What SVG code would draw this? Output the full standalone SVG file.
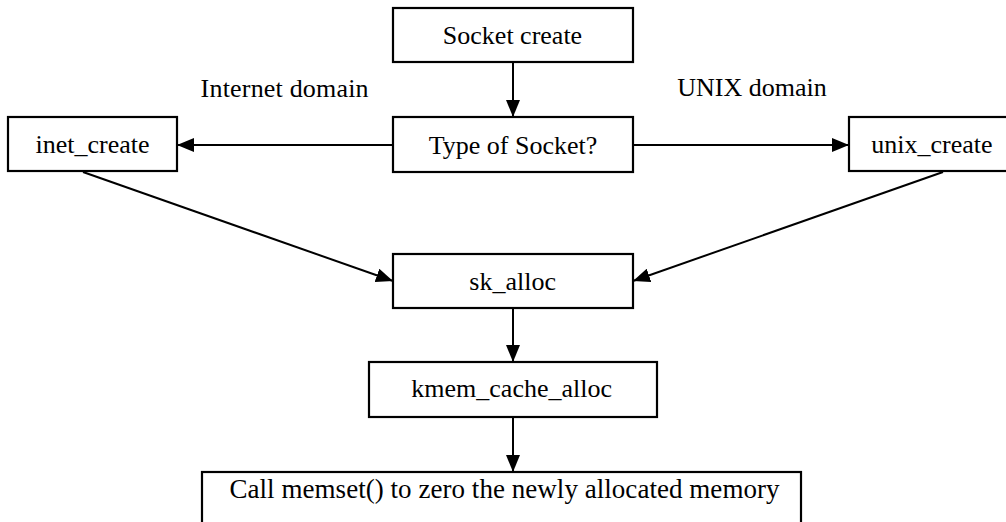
<svg xmlns="http://www.w3.org/2000/svg" width="1006" height="522" viewBox="0 0 1006 522">
  <style>
    .box { fill: #ffffff; stroke: #000000; stroke-width: 2.2; }
    .lbl { font-family: 'Liberation Serif', 'Times New Roman', Times, serif; font-size: 26px; fill: #000000; text-anchor: middle; }
    .edge { fill: none; stroke: #000000; stroke-width: 2; marker-end: url(#arrow); }
  </style>
  <defs>
    <marker id="arrow" markerUnits="userSpaceOnUse" markerWidth="17" markerHeight="14" refX="17" refY="7" orient="auto">
      <path d="M0,0 L17,7 L0,14 z" fill="#000000"/>
    </marker>
  </defs>
  <rect width="1006" height="522" fill="#ffffff"/>

  <!-- connectors -->
  <g id="connectors">
    <line class="edge" x1="513" y1="62" x2="513" y2="117"/>
    <line class="edge" x1="393" y1="145" x2="177" y2="145"/>
    <line class="edge" x1="633" y1="145" x2="849" y2="145"/>
    <line class="edge" x1="83" y1="172" x2="393" y2="281"/>
    <line class="edge" x1="943" y1="172" x2="633" y2="281"/>
    <line class="edge" x1="513" y1="308" x2="513" y2="362"/>
    <line class="edge" x1="513" y1="417" x2="513" y2="472"/>
  </g>

  <!-- branch labels -->
  <g id="labels">
    <text class="lbl" x="284.6" y="96.7" textLength="168">Internet domain</text>
    <text class="lbl" x="752" y="96">UNIX domain</text>
  </g>

  <g id="socket-create">
    <rect class="box" x="393" y="8" width="240" height="54"/>
    <text class="lbl" x="512.5" y="44.3">Socket create</text>
  </g>

  <g id="type-of-socket">
    <rect class="box" x="393" y="117" width="240" height="55"/>
    <text class="lbl" x="513" y="154">Type of Socket?</text>
  </g>

  <g id="inet-create">
    <rect class="box" x="8" y="117" width="169" height="54"/>
    <text class="lbl" x="92.5" y="152.7">inet_create</text>
  </g>

  <g id="unix-create">
    <rect class="box" x="849" y="117" width="170" height="54"/>
    <text class="lbl" x="932" y="152.7">unix_create</text>
  </g>

  <g id="sk-alloc">
    <rect class="box" x="393" y="254" width="240" height="54"/>
    <text class="lbl" x="512.7" y="290">sk_alloc</text>
  </g>

  <g id="kmem-cache-alloc">
    <rect class="box" x="369" y="362" width="288" height="55"/>
    <text class="lbl" x="511.7" y="397.3">kmem_cache_alloc</text>
  </g>

  <g id="memset">
    <rect class="box" x="202" y="472" width="599" height="60"/>
    <text class="lbl" x="504.5" y="497.5" style="font-size:27px" textLength="550">Call memset() to zero the newly allocated memory</text>
  </g>
</svg>
